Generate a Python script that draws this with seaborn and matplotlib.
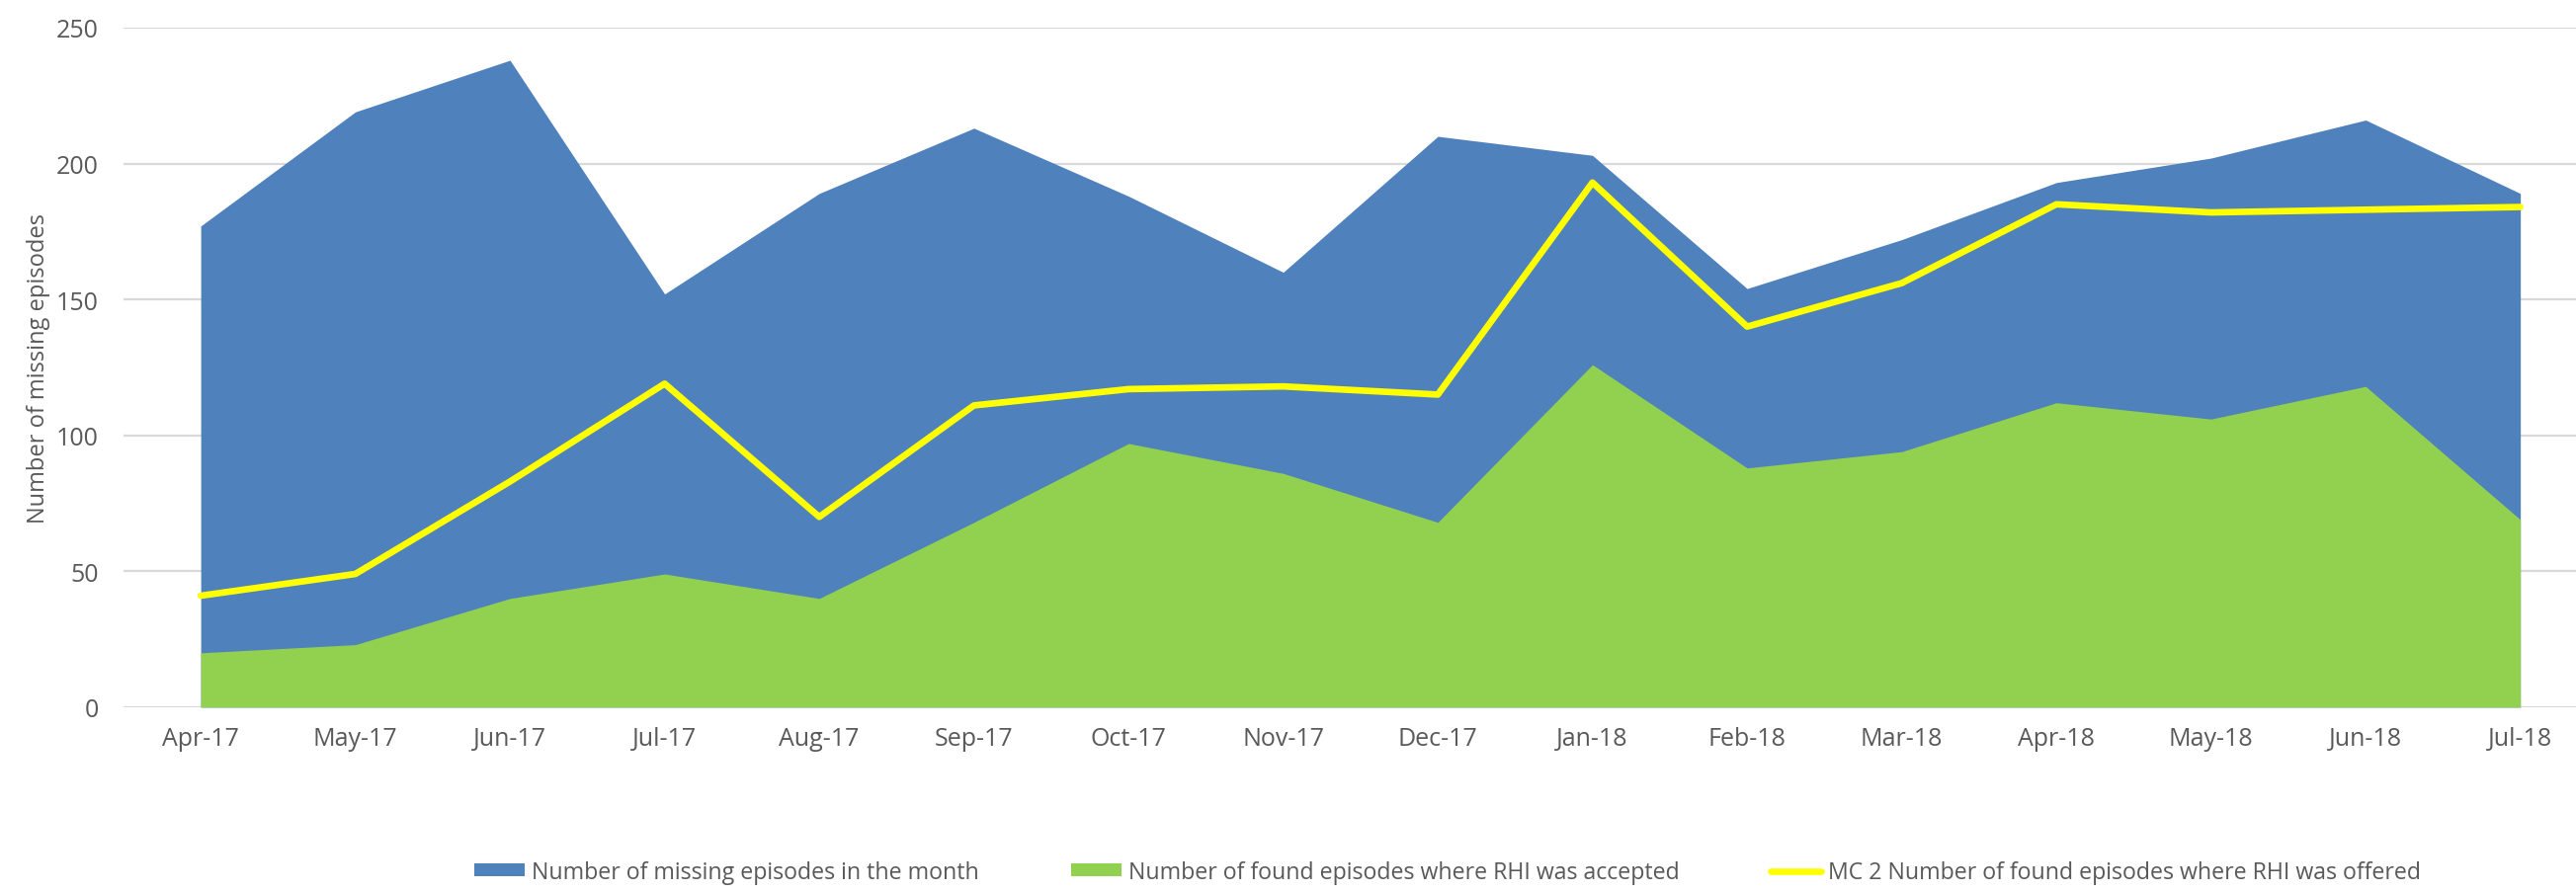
import pandas as pd
import numpy as np
import matplotlib
matplotlib.use('Agg')
import matplotlib.pyplot as plt
import seaborn as sns

# monthly values
months = ['Apr-17', 'May-17', 'Jun-17', 'Jul-17', 'Aug-17', 'Sep-17', 'Oct-17', 'Nov-17',
          'Dec-17', 'Jan-18', 'Feb-18', 'Mar-18', 'Apr-18', 'May-18', 'Jun-18', 'Jul-18']
missing = [177, 219, 238, 152, 189, 213, 188, 160, 210, 203, 154, 172, 193, 202, 216, 189]
accepted = [20, 23, 40, 49, 40, 68, 97, 86, 68, 126, 88, 94, 112, 106, 118, 69]
offered = [41, 49, 83, 119, 70, 111, 117, 118, 115, 193, 140, 156, 185, 182, 183, 184]

lab_missing = 'Number of missing episodes in the month'
lab_accepted = 'Number of found episodes where RHI was accepted'
lab_offered = 'MC 2 Number of found episodes where RHI was offered'

df = pd.DataFrame({'month': months, 'missing': missing, 'accepted': accepted, 'offered': offered})
df['pos'] = np.arange(len(df))

sns.set_theme(style='whitegrid')
plt.rcParams['font.family'] = ['Open Sans', 'DejaVu Sans']

fig = plt.figure(figsize=(26.07, 9.04), dpi=100)
ax = fig.add_axes([0.0479, 0.207, 0.9605, 0.761])

blue = '#4F81BD'
green = '#92D050'
yellow = '#FFFF00'

ax.fill_between(df['pos'], 0, df['missing'], color=blue, lw=0, label=lab_missing)
ax.fill_between(df['pos'], 0, df['accepted'], color=green, lw=0, label=lab_accepted)
sns.lineplot(data=df, x='pos', y='offered', ax=ax, color=yellow, lw=4.8, label=lab_offered,
             legend=False, zorder=5)

ax.set_xlim(-0.5, 15.5)
ax.set_ylim(0, 250)
ax.set_yticks([0, 50, 100, 150, 200, 250])
ax.set_xticks(df['pos'])
ax.set_xticklabels(months)
ax.grid(axis='y', color='#D9D9D9', lw=1.6)
ax.grid(axis='x', visible=False)
ax.set_axisbelow(True)
for s in ax.spines.values():
    s.set_visible(False)
ax.tick_params(axis='both', colors='#595959', labelsize=18, length=0)
ax.tick_params(axis='x', pad=14)
ax.tick_params(axis='y', pad=18)
ax.set_xlabel('')
ax.set_ylabel('Number of missing episodes', fontsize=17, color='#595959')
ax.yaxis.set_label_coords(-0.0295, 0.50)

handles, labels = ax.get_legend_handles_labels()
fig.legend(handles, labels, loc='center', bbox_to_anchor=(0.562, 0.022), ncol=3, frameon=False,
           fontsize=16.7, labelcolor='#595959', handlelength=2.2, handleheight=0.5,
           columnspacing=4.0, handletextpad=0.3)

fig.savefig('out.png', dpi=100, facecolor='white')
